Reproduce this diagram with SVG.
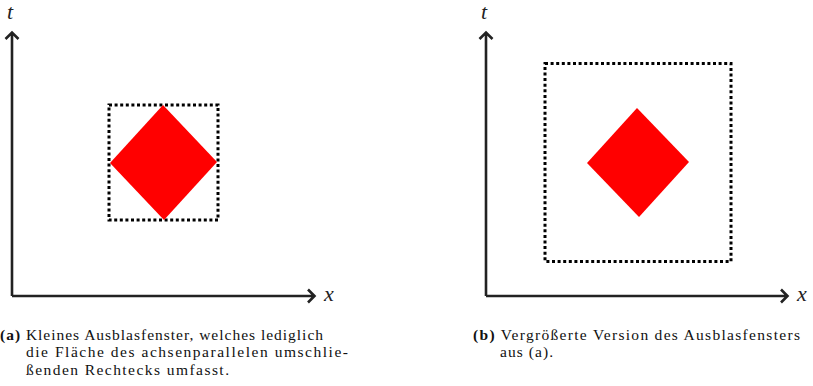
<svg xmlns="http://www.w3.org/2000/svg" width="813" height="386" viewBox="0 0 813 386">
<style>
.axis{fill:none;stroke:#222;stroke-width:2.6;stroke-linejoin:miter;stroke-linecap:butt}
.dots{fill:none;stroke:#000;stroke-width:3;stroke-dasharray:3 2.6}
.dia{fill:#ff0000}
.lab{font-style:italic;font-size:22px;fill:#222}
.cap{font-size:15.5px;fill:#111}
.b{font-weight:bold}
</style>
<rect width="813" height="386" fill="#fff"/>
<g id="connectors">
<path class="axis" d="M12,296 V33 M5.5,39 L12,32.5 L18.5,39"/>
<path class="axis" d="M12,296 H314 M308,289.5 L314.5,296 L308,302.5"/>
<path class="axis" d="M486,296 V33 M479.5,39 L486,32.5 L492.5,39"/>
<path class="axis" d="M486,296 H787 M781,289.5 L787.5,296 L781,302.5"/>
</g>
<g id="panel-a" font-family="Liberation Serif, Times New Roman, serif">
<rect class="dots" x="109" y="105" width="109" height="115"/>
<polygon class="dia" points="163,105 217,162 164,220 110,163"/>
<text class="lab" x="7" y="19">t</text>
<text class="lab" x="324" y="301">x</text>
</g>
<g id="panel-b" font-family="Liberation Serif, Times New Roman, serif">
<rect class="dots" x="545" y="63.5" width="186" height="198"/>
<polygon class="dia" points="637,108 689,162 639,217 587,163"/>
<text class="lab" x="481" y="19">t</text>
<text class="lab" x="797" y="301">x</text>
</g>
<g id="caption-a" font-family="Liberation Serif, Times New Roman, serif">
<text class="cap" x="0" y="339.5" textLength="323" lengthAdjust="spacing"><tspan class="b">(a)</tspan> Kleines Ausblasfenster, welches lediglich</text>
<text class="cap" x="26" y="357" textLength="322" lengthAdjust="spacing">die Fläche des achsenparallelen umschlie-</text>
<text class="cap" x="26" y="374.5" textLength="203" lengthAdjust="spacing">ßenden Rechtecks umfasst.</text>
</g>
<g id="caption-b" font-family="Liberation Serif, Times New Roman, serif">
<text class="cap" x="473" y="339.5" textLength="327" lengthAdjust="spacing"><tspan class="b">(b)</tspan> Vergrößerte Version des Ausblasfensters</text>
<text class="cap" x="500" y="357" textLength="53" lengthAdjust="spacing">aus (a).</text>
</g>
</svg>
